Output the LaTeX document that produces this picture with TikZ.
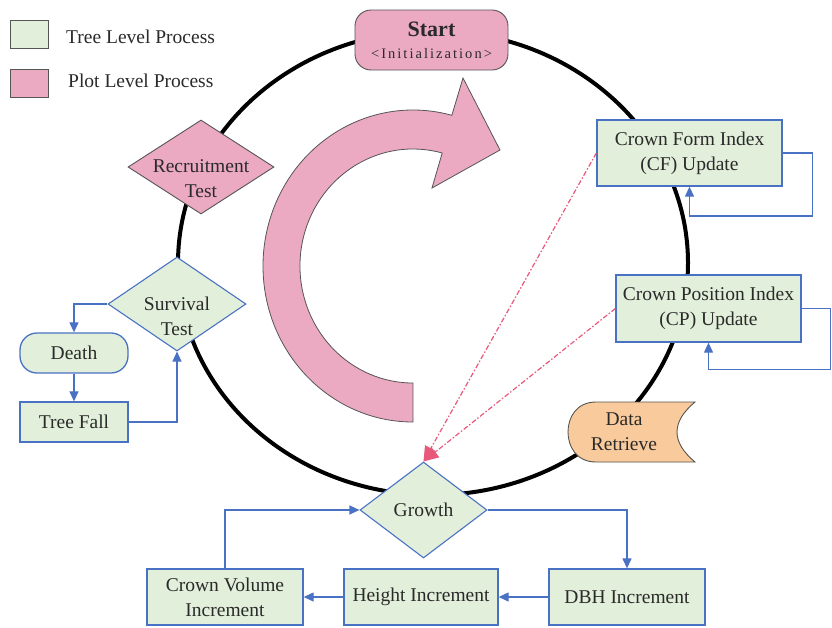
\documentclass[tikz,border=0pt]{standalone}
\usepackage{fontspec}
\setmainfont{Liberation Serif}
\usetikzlibrary{shapes.geometric,arrows.meta,calc}
\definecolor{tgreen}{HTML}{E2EFDA}
\definecolor{ppink}{HTML}{EBA9C2}
\definecolor{dorange}{HTML}{F9CB9C}
\definecolor{fblue}{HTML}{4A72C4}
\definecolor{dred}{HTML}{E8587A}
\definecolor{txt}{HTML}{2A2A2A}
\definecolor{edgegray}{HTML}{555555}
\begin{document}
\begin{tikzpicture}[x=1pt,y=-1pt,
  font=\fontsize{19.5}{25}\selectfont, text=txt,
  treebox/.style={draw=fblue, line width=1.3pt, fill=tgreen, align=center, inner sep=0pt},
  treedia/.style={diamond, draw=fblue, line width=1.1pt, fill=tgreen, inner sep=0pt},
  plotdia/.style={diamond, draw=edgegray, line width=0.9pt, fill=ppink, inner sep=0pt},
  flow/.style={draw=fblue, line width=1.2pt, -{Triangle[length=10pt,width=9pt]}},
  redflow/.style={draw=dred, line width=1.2pt, dash pattern=on 5pt off 2pt on 1.5pt off 2pt, -{Triangle[length=15pt,width=13pt,fill=dred]}},
  legbox/.style={draw=edgegray, line width=1pt, minimum width=38pt, minimum height=28pt, inner sep=0pt},
  lbl/.style={align=center, inner sep=0pt}
]
\useasboundingbox (0,0) rectangle (832,627);

% legend
\node[legbox, fill=tgreen] (lg1) at (29,34) {};
\node[lbl, anchor=west] (lt1) at (66,37) {Tree Level Process};
\node[legbox, fill=ppink] (lg2) at (29,83) {};
\node[lbl, anchor=west] (lt2) at (68,81) {Plot Level Process};

% main cycle
\draw[line width=4pt, black] (433,263) ellipse [x radius=255, y radius=232];

% big curved arrow
\filldraw[fill=ppink, draw=edgegray, line width=0.8pt]
  (413,422) arc[start angle=90, end angle=285, x radius=150, y radius=156]
  -- (463,78) -- (500,150) -- (432,188) -- (442.2,153)
  arc[start angle=285, end angle=90, x radius=113, y radius=117] -- cycle;

% start
\node[draw=edgegray, line width=0.9pt, fill=ppink, rounded corners=16pt,
  minimum width=153pt, minimum height=60pt, align=center, inner sep=0pt] (start) at (431.5,40)
  {{\fontsize{22}{25}\selectfont\textbf{Start}}\\[-3pt]{\fontsize{14.5}{16}\selectfont\addfontfeature{LetterSpace=14}<Initialization>}};

% right boxes
\node[treebox, minimum width=185pt, minimum height=66pt] (cf) at (689.5,153) {Crown Form Index\\(CF) Update};
\node[treebox, minimum width=185pt, minimum height=67pt] (cp) at (708.5,308.5) {Crown Position Index\\(CP) Update};
\draw[flow] (cf.east) -- ++(30,0) -- ++(0,63) -| (cf.south);
\draw[flow] (cp.east) -- ++(29,0) -- ++(0,61) -| (cp.south);

% data retrieve
\filldraw[fill=dorange, draw=edgegray, line width=0.9pt]
  (695,402) -- (596,402) .. controls (576,402) and (568,418) .. (568,432)
  .. controls (568,446) and (576,462) .. (596,462) -- (695,462)
  .. controls (683,452) and (677,442) .. (677,432)
  .. controls (677,422) and (683,412) .. (695,402) -- cycle;
\node[lbl] (dr) at (624,432) {Data\\Retrieve};

% recruitment
\node[plotdia, minimum width=146pt, minimum height=94pt] (recr) at (201,167) {};
\node[lbl] (recrt) at (201,179) {Recruitment\\Test};

% survival branch
\node[treedia, minimum width=138pt, minimum height=94pt] (surv) at (177,304) {};
\node[lbl] (survt) at (177,316) {Survival\\Test};
\node[treebox, rounded corners=17pt, minimum width=108pt, minimum height=40pt] (death) at (74,353) {Death};
\node[treebox, minimum width=108pt, minimum height=40pt] (fall) at (74,422) {Tree Fall};
\draw[flow] (surv.west) -| (death.north);
\draw[flow] (death) -- (fall);
\draw[flow] (fall.east) -| (surv.south);

% growth
\node[treedia, minimum width=127pt, minimum height=96pt] (growth) at (423.5,510) {Growth};
\node[treebox, minimum width=156pt, minimum height=56pt] (cv) at (225,597) {Crown Volume\\Increment};
\node[treebox, minimum width=154pt, minimum height=56pt] (hi) at (421,597) {Height Increment};
\node[treebox, minimum width=156pt, minimum height=56pt] (dbh) at (627,597) {DBH Increment};
\draw[flow] (growth.east) -| (dbh.north);
\draw[flow] (dbh.west) -- (hi.east);
\draw[flow] (hi.west) -- (cv.east);
\draw[flow] (cv.north) |- (growth.west);

% red dashed
\draw[redflow] (cf.west) -- (growth.north);
\draw[redflow] (cp.west) -- (growth.north);
\end{tikzpicture}
\end{document}
